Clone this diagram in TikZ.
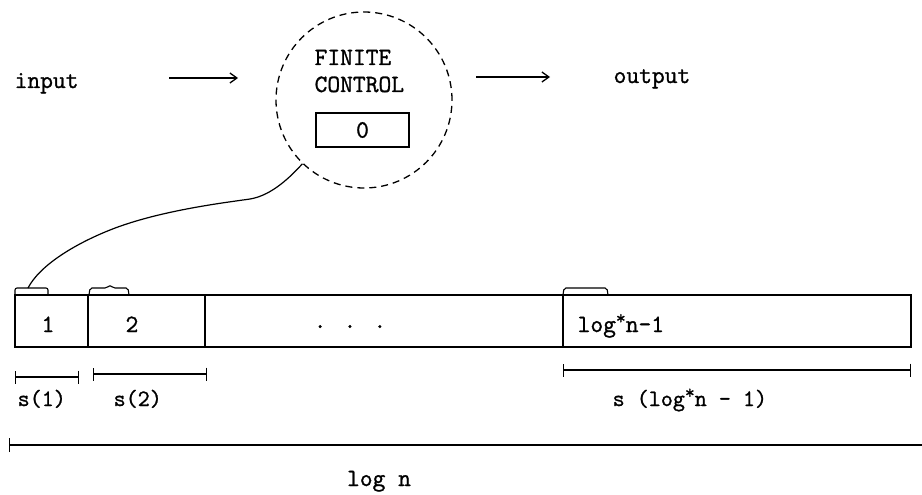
\documentclass[tikz,border=0pt]{standalone}
\usepackage{fontspec}
\newfontfamily\typw[FakeBold=1.2]{Latin Modern Mono}
\usetikzlibrary{arrows.meta}
\newcommand{\upstar}{\raisebox{.32em}{\fontsize{19}{19}\selectfont *}}
\begin{document}
\begin{tikzpicture}[x=1pt,y=-1pt, line width=1.3pt,
  tt/.style={font=\typw\fontsize{24.8}{28}\selectfont, inner sep=0pt},
  lab/.style={font=\typw\fontsize{23.4}{27}\selectfont, inner sep=0pt},
  cellbox/.style={draw, minimum height=52pt, inner sep=0pt, outer sep=0pt},
  dim/.style={{Bar[width=13pt]}-{Bar[width=13pt]}},
  arr/.style={-{Straight Barb[length=7pt,width=10pt]}},
  brk/.style={rounded corners=2pt, line width=1.1pt}]
\path[use as bounding box, fill=white] (0,0) rectangle (922,495);
% top row
\node[tt, anchor=base west] (in) at (14,88) {input};
\node[tt, anchor=base west] (out) at (613,83) {output};
\node[draw, dash pattern=on 7pt off 5pt, circle, minimum size=176pt, inner sep=0pt] (fc) at (364,100) {};
\node[tt, anchor=base west] (fin) at (314,65) {FINITE};
\node[tt, anchor=base west] (con) at (314,92) {CONTROL};
\node[draw, tt, minimum width=93pt, minimum height=34pt] (st) at (362.5,130) {0};
\coordinate (ia) at (169,78); \coordinate (ib) at (238,78);
\draw[arr] (ia) -- (ib);
\coordinate (oa) at (476,77); \coordinate (ob) at (550,77);
\draw[arr] (oa) -- (ob);
% tape
\node[cellbox, minimum width=73pt] (c1) at (51.5,321) {};
\node[cellbox, minimum width=117pt] (c2) at (146.5,321) {};
\node[cellbox, minimum width=358pt] (cm) at (384,321) {};
\node[cellbox, minimum width=348pt] (cl) at (737,321) {};
\node[tt, anchor=base] (l1) at (48,332) {1};
\node[tt, anchor=base] (l2) at (132,332) {2};
\node[tt, anchor=base] (dots) at (350,328) {. . .};
\node[tt, anchor=base west] (ll) at (577,332) {log\upstar n-1};
% brackets
\draw[brk] (15,295) -- (15,288) -- (48,288) -- (48,295);
\coordinate (b1) at (28,288);
\draw[brk] (89,295) -- (90,288) -- (107,288) -- (110,285) -- (113,288) -- (128,288) -- (129,295);
\draw[brk] (563,295) -- (564,288) -- (607,288) -- (608,295);
% head link
\draw[line width=1.2pt] (fc.226) .. controls (285,183) and (268,196) .. (250,199)
  .. controls (230,202) and (160,210) .. (110,230)
  .. controls (75,244) and (40,265) .. (b1);
% dimensions
\coordinate (d1a) at (15,377); \coordinate (d1b) at (79,377);
\draw[dim] (d1a) -- (d1b);
\node[lab, anchor=base west] (s1) at (17,406) {s(1)};
\coordinate (d2a) at (93,374); \coordinate (d2b) at (207,374);
\draw[dim] (d2a) -- (d2b);
\node[lab, anchor=base west] (s2) at (113,406) {s(2)};
\coordinate (d3a) at (563,370); \coordinate (d3b) at (911,370);
\draw[dim] (d3a) -- (d3b);
\node[lab, anchor=base west] (s3) at (612,406) {s (log\upstar n - 1)};
\coordinate (d4a) at (9,445); \coordinate (d4b) at (922,445);
\draw[{Bar[width=14pt]}-] (d4a) -- (d4b);
\node[tt, anchor=base] (logn) at (379,486) {log n};
\end{tikzpicture}
\end{document}
